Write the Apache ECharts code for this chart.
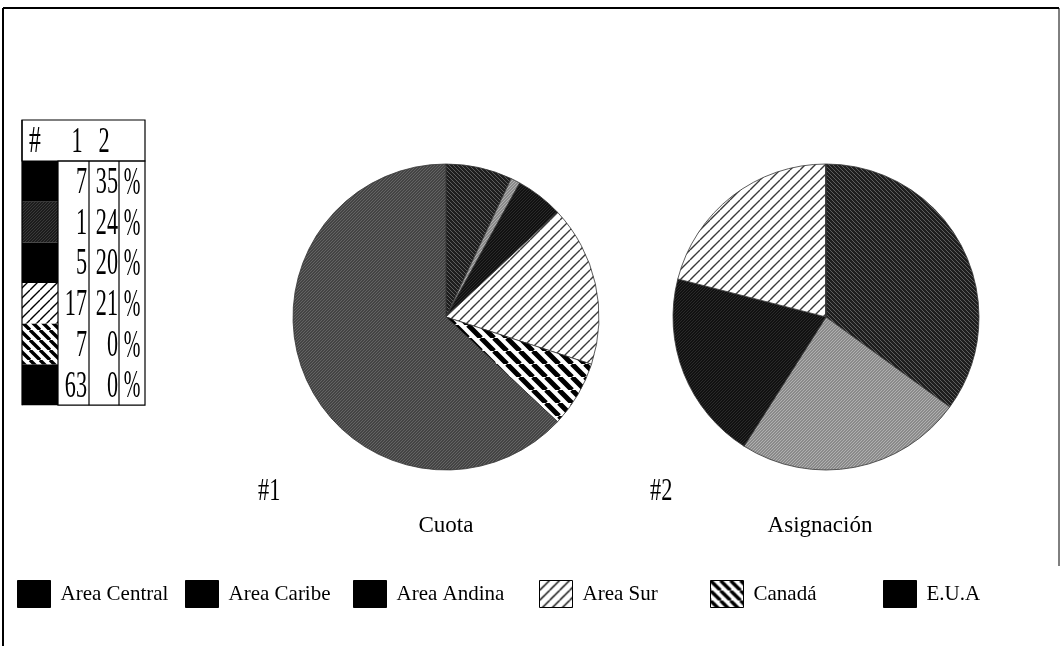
<!DOCTYPE html>
<html>
<head>
<meta charset="utf-8">
<script src="https://cdn.jsdelivr.net/npm/echarts@6/dist/echarts.min.js"></script>
<style>html,body{margin:0;padding:0;background:#fff;}#c{width:1061px;height:646px;}</style>
</head>
<body>
<div id="c"></div>
<script>
// ---- data ----
const categories = ['Area Central', 'Area Caribe', 'Area Andina', 'Area Sur', 'Canadá', 'E.U.A'];
const cuota = [7, 1, 5, 17, 7, 63];
const asignacion = [35, 24, 20, 21, 0, 0];
const pieTitles = ['Cuota', 'Asignación'];
const pieTags = ['#1', '#2'];
const tableHeader = ['#', '1', '2'];
const unitLabel = '%';

// ---- styles ----
const FONT = "'Liberation Serif','DejaVu Serif',serif";
function hatch(bg, fg, size, lw, dir) {
  const c = document.createElement('canvas');
  c.width = size; c.height = size;
  const g = c.getContext('2d');
  g.fillStyle = bg; g.fillRect(0, 0, size, size);
  g.strokeStyle = fg; g.lineWidth = lw;
  g.beginPath();
  for (let k = -1; k <= 1; k++) {
    if (dir === '/') { g.moveTo(k * size, size); g.lineTo(k * size + size, 0); }
    else { g.moveTo(k * size, 0); g.lineTo(k * size + size, size); }
  }
  g.stroke();
  return { image: c, repeat: 'repeat' };
}
const pieFill = [
  hatch('#1e1e1e', '#5e5e5e', 4, 1, '\\'),
  hatch('#8a8a8a', '#b0b0b0', 3, 1, '/'),
  hatch('#111111', '#2a2a2a', 3, 1, '/'),
  hatch('#ffffff', '#3a3a3a', 10, 1.4, '/'),
  hatch('#ffffff', '#000000', 13, 5, '\\'),
  hatch('#444444', '#646464', 3, 1, '/')
];
const swatchFill = [
  '#000',
  hatch('#1c1c1c', '#3a3a3a', 3, 1, '/'),
  '#000',
  hatch('#ffffff', '#000000', 10, 1.4, '/'),
  hatch('#ffffff', '#000000', 10, 3.4, '\\'),
  '#000'
];
const legendFill = [
  '#000', '#000', '#000',
  hatch('#ffffff', '#000000', 10, 1.4, '/'),
  hatch('#ffffff', '#000000', 10, 3.4, '\\'),
  '#000'
];
const legendLeft = [17, 185, 353, 539, 710, 883];

// ---- table (graphic) ----
const graphics = [];
graphics.push({ type: 'line', shape: { x1: 3, y1: 8, x2: 1059, y2: 8 }, style: { stroke: '#000', lineWidth: 2 } });
graphics.push({ type: 'line', shape: { x1: 3, y1: 8, x2: 3, y2: 646 }, style: { stroke: '#000', lineWidth: 2 } });
graphics.push({ type: 'line', shape: { x1: 1059, y1: 8, x2: 1059, y2: 566 }, style: { stroke: '#000', lineWidth: 1 } });

const tX = 22, tY = 120, tW = 123, headH = 41, rowH = 40.7;
const colEdges = [58, 89, 119, 145];
const nRows = categories.length;
const tBottom = tY + headH + rowH * nRows;
graphics.push({ type: 'rect', shape: { x: tX, y: tY, width: tW, height: headH }, style: { fill: '#fff', stroke: '#000', lineWidth: 1.2 } });
const headX = [35, 77, 104];
tableHeader.forEach((h, i) => {
  graphics.push({ type: 'text', x: headX[i], y: tY + headH / 2 + 2, scaleX: 0.62,
    style: { text: h, x: 0, y: 0, align: 'center', verticalAlign: 'middle', fill: '#000', font: (i === 0 ? '38px ' : '36px ') + FONT } });
});
categories.forEach((c, i) => {
  graphics.push({ type: 'rect', shape: { x: tX, y: tY + headH + rowH * i, width: colEdges[0] - tX, height: rowH },
    style: { fill: swatchFill[i], stroke: null } });
});
graphics.push({ type: 'rect', shape: { x: colEdges[0], y: tY + headH, width: colEdges[3] - colEdges[0], height: rowH * nRows },
  style: { fill: null, stroke: '#000', lineWidth: 1.2 } });
graphics.push({ type: 'line', shape: { x1: colEdges[1], y1: tY + headH, x2: colEdges[1], y2: tBottom }, style: { stroke: '#000', lineWidth: 1.2 } });
graphics.push({ type: 'line', shape: { x1: colEdges[2], y1: tY + headH, x2: colEdges[2], y2: tBottom }, style: { stroke: '#000', lineWidth: 1.2 } });
graphics.push({ type: 'line', shape: { x1: tX, y1: tY, x2: tX, y2: tBottom }, style: { stroke: '#000', lineWidth: 1.2 } });
categories.forEach((c, i) => {
  const cy = tY + headH + rowH * i + rowH / 2 + 2;
  graphics.push({ type: 'text', x: colEdges[1] - 2, y: cy, scaleX: 0.6,
    style: { text: String(cuota[i]), x: 0, y: 0, align: 'right', verticalAlign: 'middle', fill: '#000', font: '37px ' + FONT } });
  graphics.push({ type: 'text', x: colEdges[2] - 1, y: cy, scaleX: 0.6,
    style: { text: String(asignacion[i]), x: 0, y: 0, align: 'right', verticalAlign: 'middle', fill: '#000', font: '37px ' + FONT } });
  graphics.push({ type: 'text', x: (colEdges[2] + colEdges[3]) / 2, y: cy, scaleX: 0.5,
    style: { text: unitLabel, x: 0, y: 0, align: 'center', verticalAlign: 'middle', fill: '#000', font: '40px ' + FONT } });
});
const tagX = [258, 650];
pieTags.forEach((t, i) => {
  graphics.push({ type: 'text', x: tagX[i], y: 492, scaleX: 0.72,
    style: { text: t, x: 0, y: 0, align: 'left', verticalAlign: 'middle', fill: '#000', font: '31px ' + FONT } });
});

// ---- chart ----
const chart = echarts.init(document.getElementById('c'), null, { renderer: 'canvas' });
function pieData(vals) {
  return categories.map((n, i) => ({ name: n, value: vals[i], itemStyle: { color: pieFill[i] } }));
}
const centers = [[446, 317], [826, 317]];
const titleX = [441, 815];
chart.setOption({
  animation: false,
  backgroundColor: '#fff',
  title: pieTitles.map((t, i) => ({
    text: t, left: titleX[i], top: 509, textAlign: 'center',
    textStyle: { fontFamily: FONT, fontWeight: 'normal', fontSize: 23, color: '#000' }
  })),
  legend: categories.map((n, i) => ({
    left: legendLeft[i], top: 580, padding: 0, itemWidth: 33, itemHeight: 27, icon: 'rect',
    selectedMode: false,
    data: [{ name: n, itemStyle: { color: legendFill[i], borderColor: '#000', borderWidth: 1 } }],
    textStyle: { fontFamily: FONT, fontSize: 21, color: '#000', padding: [0, 0, 0, 5] }
  })),
  graphic: graphics,
  series: [cuota, asignacion].map((vals, k) => ({
    type: 'pie', center: centers[k], radius: 153, startAngle: 90, clockwise: true,
    label: { show: false }, labelLine: { show: false }, emphasis: { disabled: true },
    itemStyle: { borderColor: '#333', borderWidth: 0.8 },
    data: pieData(vals)
  }))
});
</script>
</body>
</html>
